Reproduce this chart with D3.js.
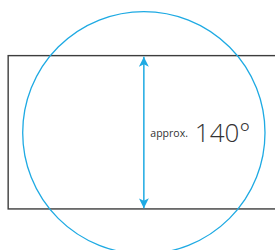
<!DOCTYPE html>
<html>
<head>
<meta charset="utf-8">
<script src="https://cdn.jsdelivr.net/npm/d3@7"></script>
<style>
  html, body { margin: 0; padding: 0; background: #fff; }
  svg { display: block; }
</style>
</head>
<body>
<div id="chart"></div>
<script>
// field of view sketch, units: circle radius = 1
const viewCircle = [{ cx: 0, cy: 0, r: 1 }];
const frameRect  = [{ x0: -1.12, x1: 1.35, y0: -0.63, y1: 0.637 }];
const spanArrow  = [{ x: 0, y0: -0.625, y1: 0.627 }];
const angleLabel = { prefix: "approx.", value: "140°" };

const W = 275, H = 250;
const x = d3.scaleLinear().domain([-1, 1]).range([22.7, 265]);
const y = d3.scaleLinear().domain([1, -1]).range([11.7, 253.7]);

const svg = d3.select("#chart").append("svg")
  .attr("width", W).attr("height", H);

const BLUE = "#1eaae3";

const defs = svg.append("defs");
defs.append("marker").attr("id","head")
  .attr("viewBox","0 0 10 10").attr("refX",10).attr("refY",5)
  .attr("markerWidth",10).attr("markerHeight",10).attr("markerUnits","userSpaceOnUse")
  .attr("orient","auto-start-reverse")
  .append("path").attr("d","M0,0 L10,5 L0,10 L2.5,5 Z").attr("fill",BLUE);

// frame
svg.selectAll("rect.frame").data(frameRect).join("rect")
  .attr("class","frame")
  .attr("x",d=>x(d.x0)).attr("width",d=>x(d.x1)-x(d.x0))
  .attr("y",d=>y(d.y1)).attr("height",d=>y(d.y0)-y(d.y1))
  .attr("fill","none").attr("stroke","#3d3d3d").attr("stroke-width",1.4);

// view circle
svg.selectAll("circle.view").data(viewCircle).join("circle")
  .attr("class","view")
  .attr("cx",d=>x(d.cx)).attr("cy",d=>y(d.cy))
  .attr("r",d=>x(d.r)-x(0))
  .attr("fill","none").attr("stroke",BLUE).attr("stroke-width",1.3);

// arrow
svg.selectAll("line.span").data(spanArrow).join("line")
  .attr("class","span")
  .attr("x1",d=>x(d.x)).attr("x2",d=>x(d.x))
  .attr("y1",d=>y(d.y1)).attr("y2",d=>y(d.y0))
  .attr("stroke",BLUE).attr("stroke-width",1.5)
  .attr("marker-start","url(#head)").attr("marker-end","url(#head)");

// label
const ax = x(spanArrow[0].x), ay = y(0);
svg.append("text").attr("x",ax+6.5).attr("y",ay+4.6)
  .attr("fill","#333").style("font-family","'Open Sans', sans-serif")
  .style("font-size","10.5px").text(angleLabel.prefix);
svg.append("text").attr("x",ax+51).attr("y",ay+9.6)
  .attr("fill","#333").style("font-family","'Open Sans', sans-serif")
  .style("font-size","26px").style("font-weight","300").text(angleLabel.value);
</script>
</body>
</html>
